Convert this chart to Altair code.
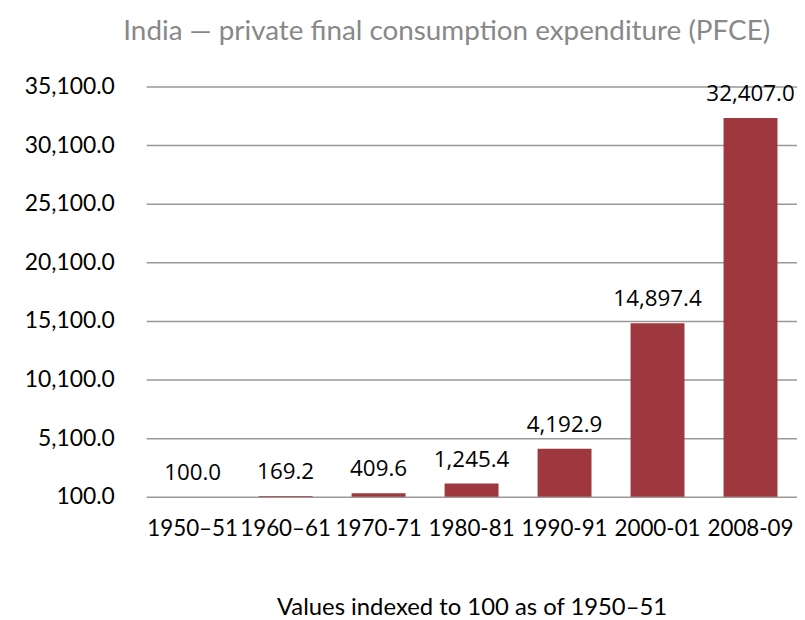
import altair as alt
import pandas as pd

periods = ["1950–51", "1960–61", "1970-71", "1980-81", "1990-91", "2000-01", "2008-09"]
values = [100.0, 169.2, 409.6, 1245.4, 4192.9, 14897.4, 32407.0]
labels = ["100.0", "169.2", "409.6", "1,245.4", "4,192.9", "14,897.4", "32,407.0"]
y_ticks = [100, 5100, 10100, 15100, 20100, 25100, 30100, 35100]

df = pd.DataFrame({"period": periods, "value": values, "label": labels, "base": [100.0] * len(values)})

FONT = "Lato"

x = alt.X("period:N", sort=periods,
          scale=alt.Scale(paddingInner=0.42, paddingOuter=0.21),
          axis=alt.Axis(title="Values indexed to 100 as of 1950–51", labelAngle=0,
                        labelFontSize=22.5, labelFont=FONT, labelColor="#000",
                        labelPadding=21, ticks=False, domain=False,
                        titleFont=FONT, titleFontSize=24, titleFontWeight="normal",
                        titleColor="#000", titlePadding=56))
y = alt.Y("value:Q", scale=alt.Scale(domain=[100, 35100], nice=False, zero=False),
          axis=alt.Axis(title=None, values=y_ticks, format=",.1f", labelFontSize=23,
                        labelFont=FONT, labelColor="#000", labelPadding=32,
                        ticks=False, domain=False, gridColor="#999", gridWidth=1.5))

bars = alt.Chart(df).mark_bar(color="#9e383e").encode(x=x, y=y, y2="base:Q")
text = alt.Chart(df).mark_text(baseline="bottom", dy=-12, fontSize=22.5, font="Open Sans", color="#000").encode(
    x=alt.X("period:N", sort=periods), y="value:Q", text="label:N")

chart = (bars + text).properties(
    width=655, height=413,
    title=alt.TitleParams("India — private final consumption expenditure (PFCE)",
                          font=FONT, fontSize=28, fontWeight="normal", color="#888",
                          offset=30, anchor="middle", dx=-25),
    padding={"left": 16, "right": 0, "top": 8, "bottom": 0},
).configure_view(stroke=None)

chart.save("out.html", embed_options={"renderer": "svg", "actions": False})
